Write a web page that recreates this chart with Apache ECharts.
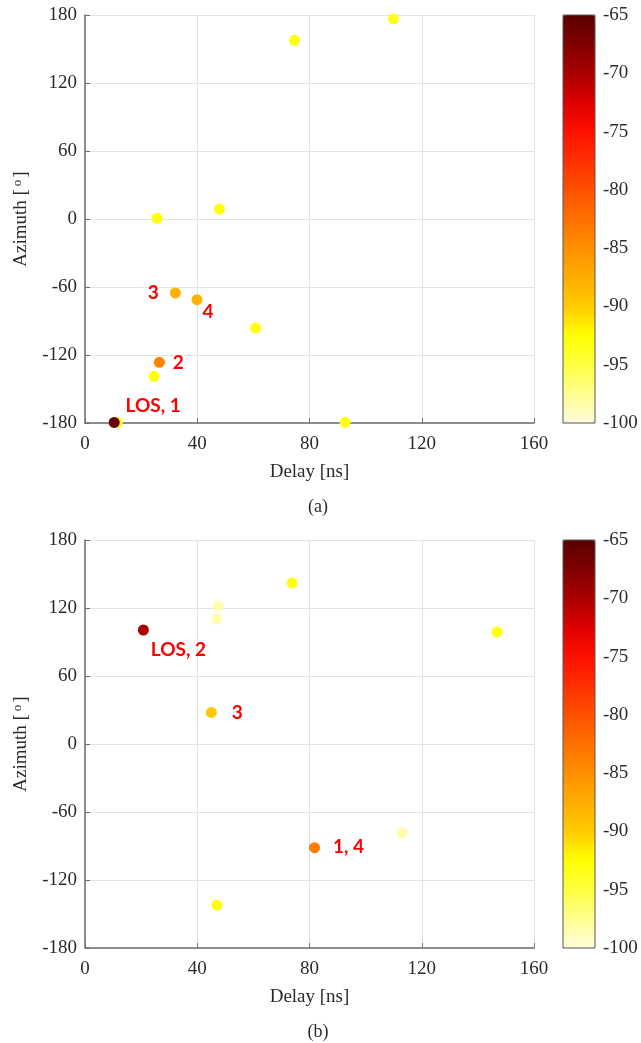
<!DOCTYPE html>
<html>
<head>
<meta charset="utf-8">
<script src="https://cdn.jsdelivr.net/npm/echarts@6/dist/echarts.min.js"></script>
<style>
  html, body { margin: 0; padding: 0; background: #fff; }
  #chart { width: 641px; height: 1043px; }
</style>
</head>
<body>
<div id="chart"></div>
<script>
// (a) 测量数据
const delayA = [11.5, 10.4, 24.6, 26.5, 32.2, 39.9, 25.7, 47.9, 60.8, 74.7, 92.7, 109.9]
const azimuthA = [-179.5, -179.5, -138.8, -126.5, -65.3, -71.2, 0.6, 8.8, -96.2, 157.7, -179.4, 176.5]
const powerA = [-93, -66, -93, -84, -88, -88, -93, -93, -93, -93, -93, -93.5]
const tagA = ['', 'LOS, 1', '', '2', '3', '4', '', '', '', '', '', '']

// (b) 测量数据
const delayB = [47.5, 46.9, 73.8, 20.8, 45.0, 146.8, 81.8, 113.0, 47.0]
const azimuthB = [121.8, 110.3, 142.0, 100.6, 27.9, 98.8, -91.5, -78.3, -142.1]
const powerB = [-98.5, -98.5, -93, -70, -89.5, -93, -83.5, -98.5, -93]
const tagB = ['', '', '', 'LOS, 2', '3', '', '1, 4', '', '']

// 坐标轴刻度
const delayTicks = { min: 0, max: 160, interval: 40 }
const azimuthTicks = { min: -180, max: 180, interval: 60 }
const powerTicks = { min: -100, max: -65, interval: 5 }

// 色带 (-100 -> -65, 每 2.5)
const colorStops = [
  '#fffbdc', '#ffff90', '#ffff40', '#ffff00', '#ffcc00',
  '#ffac00', '#ff9000', '#ff7000', '#ff5000', '#ff3000',
  '#ff1000', '#dd0000', '#aa0000', '#800000', '#5a0000'
]

// 标注偏移（相对点中心）
const tagOffset = {
  'LOS, 1': [39, -17],
  '2': [19, 1],
  '3': [-22, 0],
  '4': [11, 12],
  'LOS, 2': [35, 20],
  '3b': [26, 0],
  '1, 4': [34, -1]
}

const serif = 'Liberation Serif'
const textColor = '#2b2b2b'
const axisColor = '#6e6e6e'

function buildData(delay, az, power, tags, suffix) {
  return delay.map((d, i) => {
    const item = { value: [d, az[i], power[i]] }
    if (tags[i]) {
      const key = tagOffset[tags[i] + suffix] ? tags[i] + suffix : tags[i]
      item.label = {
        show: true,
        formatter: tags[i],
        position: 'inside',
        offset: tagOffset[key]
      }
    }
    return item
  })
}

const plotTops = [15, 540]
const plotH = 408

function mainX(idx) {
  return {
    gridIndex: idx,
    type: 'value',
    min: delayTicks.min,
    max: delayTicks.max,
    interval: delayTicks.interval,
    name: 'Delay [ns]',
    nameLocation: 'middle',
    nameGap: 40,
    nameTextStyle: { fontFamily: serif, fontSize: 19, color: textColor },
    axisLine: { onZero: false, lineStyle: { color: axisColor, width: 1.5 } },
    axisTick: { inside: true, length: 5, lineStyle: { color: axisColor } },
    axisLabel: { fontFamily: serif, fontSize: 19, color: textColor, margin: 12 },
    splitLine: { show: true, lineStyle: { color: '#e3e3e3', width: 1 } }
  }
}

function mainY(idx) {
  return {
    gridIndex: idx,
    type: 'value',
    min: azimuthTicks.min,
    max: azimuthTicks.max,
    interval: azimuthTicks.interval,
    name: '{n|Azimuth [}{s|o}{n|]}',
    nameLocation: 'middle',
    nameGap: 53,
    nameTextStyle: {
      fontFamily: serif, fontSize: 19, color: textColor,
      rich: {
        n: { fontFamily: serif, fontSize: 19, color: textColor },
        s: { fontFamily: serif, fontSize: 13, color: textColor, verticalAlign: 'top', padding: [0, 2, 8, 3] }
      }
    },
    axisLine: { onZero: false, lineStyle: { color: axisColor, width: 1.5 } },
    axisTick: { inside: true, length: 5, lineStyle: { color: axisColor } },
    axisLabel: { fontFamily: serif, fontSize: 19, color: textColor, margin: 8 },
    splitLine: { show: true, lineStyle: { color: '#e3e3e3', width: 1 } }
  }
}

function barX(idx) {
  return { gridIndex: idx, type: 'value', min: 0, max: 1, show: false }
}

function barY(idx) {
  return {
    gridIndex: idx,
    type: 'value',
    position: 'right',
    min: powerTicks.min,
    max: powerTicks.max,
    interval: powerTicks.interval,
    axisLine: { show: false },
    axisTick: { show: false },
    axisLabel: { fontFamily: serif, fontSize: 19, color: textColor, margin: 8 },
    splitLine: { show: false }
  }
}

const labelStyle = {
  fontFamily: 'Lato',
  fontWeight: 'bold',
  fontSize: 19,
  color: '#ff0000'
}

const chart = echarts.init(document.getElementById('chart'), null, { renderer: 'canvas' })

const option = {
  backgroundColor: '#ffffff',
  animation: false,
  grid: [
    { left: 85, top: plotTops[0], width: 449, height: plotH, containLabel: false },
    { left: 85, top: plotTops[1], width: 449, height: plotH, containLabel: false },
    { left: 563, top: plotTops[0], width: 32, height: plotH, show: true, borderColor: '#555', borderWidth: 1, backgroundColor: 'transparent', z: 10 },
    { left: 563, top: plotTops[1], width: 32, height: plotH, show: true, borderColor: '#555', borderWidth: 1, backgroundColor: 'transparent', z: 10 }
  ],
  xAxis: [mainX(0), mainX(1), barX(2), barX(3)],
  yAxis: [mainY(0), mainY(1), barY(2), barY(3)],
  visualMap: [0, 1].map(i => ({
    type: 'continuous',
    seriesIndex: i,
    dimension: 2,
    min: powerTicks.min,
    max: powerTicks.max,
    orient: 'vertical',
    left: 563,
    top: plotTops[i],
    itemWidth: 32,
    itemHeight: plotH,
    padding: 0,
    calculable: false,
    hoverLink: false,
    text: null,
    z: 1,
    inRange: { color: colorStops }
  })),
  series: [
    {
      type: 'scatter',
      xAxisIndex: 0,
      yAxisIndex: 0,
      symbolSize: 11,
      itemStyle: { opacity: 1, borderWidth: 0 },
      label: labelStyle,
      data: buildData(delayA, azimuthA, powerA, tagA, '')
    },
    {
      type: 'scatter',
      xAxisIndex: 1,
      yAxisIndex: 1,
      symbolSize: 11,
      itemStyle: { opacity: 1, borderWidth: 0 },
      label: labelStyle,
      data: buildData(delayB, azimuthB, powerB, tagB, 'b')
    }
  ],
  graphic: [
    { type: 'text', x: 318, y: 507, style: { text: '(a)', fontFamily: serif, fontSize: 18, fill: textColor, textAlign: 'center', textVerticalAlign: 'middle' } },
    { type: 'text', x: 318, y: 1032, style: { text: '(b)', fontFamily: serif, fontSize: 18, fill: textColor, textAlign: 'center', textVerticalAlign: 'middle' } }
  ]
}

chart.setOption(option)
</script>
</body>
</html>
